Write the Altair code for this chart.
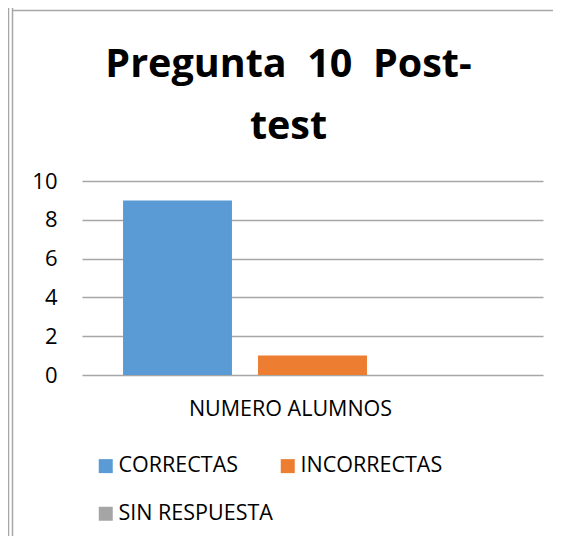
import altair as alt
import pandas as pd

series = ["CORRECTAS", "INCORRECTAS", "SIN RESPUESTA"]
values = [9, 1, 0]
colors = ["#5B9BD5", "#ED7D31", "#A5A5A5"]
y_ticks = [0, 2, 4, 6, 8, 10]
title_lines = ["Pregunta\u00a0 10\u00a0 Post-", "test"]
x_title = "NUMERO ALUMNOS"

df = pd.DataFrame({"serie": series, "valor": values})
FONT = "Open Sans"

bars = alt.Chart(df).mark_bar().encode(
    x=alt.X("serie:N", sort=series,
            scale=alt.Scale(paddingInner=0.193, paddingOuter=0.304),
            axis=alt.Axis(title=x_title, labels=False, ticks=False, domain=False,
                          grid=False, titleFontSize=21.5, titleFont=FONT,
                          titleFontWeight="normal", titleColor="#000000",
                          titleX=208, titleY=40, titleBaseline="alphabetic",
                          titleAlign="center")),
    y=alt.Y("valor:Q", scale=alt.Scale(domain=[0, 10]),
            axis=alt.Axis(title=None, values=y_ticks, domain=False, ticks=False,
                          labelFontSize=22, labelFont=FONT, labelColor="#000000",
                          labelPadding=25, gridColor="#A6A6A6", gridWidth=1.3)),
    color=alt.Color("serie:N", sort=series,
                    scale=alt.Scale(domain=series, range=colors),
                    legend=alt.Legend(title=None, orient="none", legendX=13, legendY=274,
                                      direction="horizontal",
                                      columns=2, symbolType="square", symbolSize=196,
                                      symbolStrokeWidth=0, labelFontSize=21.5, labelFont=FONT,
                                      labelColor="#000000", labelOffset=2,
                                      columnPadding=4, rowPadding=25, padding=0,
                                      labelLimit=300)),
)

frame_df = pd.DataFrame({"k": [0]})
left1 = alt.Chart(frame_df).mark_rule(color="#A6A6A6", strokeWidth=1.5).encode(
    x=alt.value(-73.5), y=alt.value(-173), y2=alt.value(361))
left2 = alt.Chart(frame_df).mark_rule(color="#A6A6A6", strokeWidth=1.5).encode(
    x=alt.value(-69.5), y=alt.value(-173), y2=alt.value(361))
top = alt.Chart(frame_df).mark_rule(color="#A6A6A6", strokeWidth=1.5).encode(
    x=alt.value(-70), x2=alt.value(479), y=alt.value(-170.5))

chart = alt.layer(bars, left1, left2, top).properties(
    width=461, height=194,
    autosize=alt.AutoSizeParams(type="none"),
    padding={"left": 74, "top": 173, "right": 10, "bottom": 161},
    title=alt.Title(text=title_lines, font=FONT, fontSize=39.5, fontWeight="bold",
                    color="#000000", anchor="middle", dx=-24, offset=0, dy=140,
                    lineHeight=62),
).configure_view(stroke=None)

chart.save("out.html", embed_options={"renderer": "svg", "actions": False})
